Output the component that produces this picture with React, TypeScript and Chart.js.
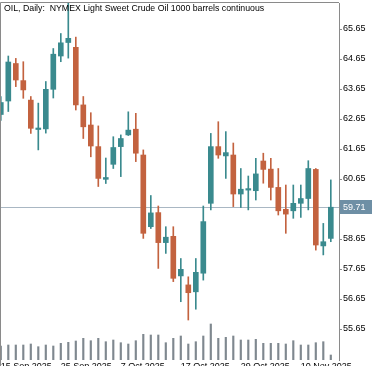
import React, { useEffect, useRef } from "react";
import { Chart, registerables } from "chart.js";
Chart.register(...registerables);

const dates = [
  "2025-09-15", "2025-09-16", "2025-09-17", "2025-09-18", "2025-09-19",
  "2025-09-22", "2025-09-23", "2025-09-24", "2025-09-25", "2025-09-26",
  "2025-09-29", "2025-09-30", "2025-10-01", "2025-10-02", "2025-10-03",
  "2025-10-06", "2025-10-07", "2025-10-08", "2025-10-09", "2025-10-10",
  "2025-10-13", "2025-10-14", "2025-10-15", "2025-10-16", "2025-10-17",
  "2025-10-20", "2025-10-21", "2025-10-22", "2025-10-23", "2025-10-24",
  "2025-10-27", "2025-10-28", "2025-10-29", "2025-10-30", "2025-10-31",
  "2025-11-03", "2025-11-04", "2025-11-05", "2025-11-06", "2025-11-07",
  "2025-11-10", "2025-11-11", "2025-11-12", "2025-11-13", "2025-11-14",
];

const opens = [
  62.8, 63.25, 64.5, 63.93, 63.28, 62.3, 62.32, 63.64, 64.75, 65.2,
  65.04, 63.12, 62.45, 61.73, 60.64, 61.14, 61.73, 62.12, 62.31, 61.45,
  59.06, 59.53, 58.53, 58.74, 57.42, 57.12, 56.89, 57.51, 59.84, 61.73,
  61.42, 61.45, 60.15, 60.28, 60.26, 61.25, 60.98, 60.37, 59.64, 59.59,
  59.84, 60.0, 60.97, 58.42, 58.67,
];
const highs = [
  63.4, 64.75, 64.67, 64.56, 63.4, 63.18, 63.9, 65.0, 65.5, 66.7,
  65.38, 63.4, 62.86, 62.42, 61.35, 62.06, 62.12, 62.89, 62.84, 61.62,
  60.1, 59.75, 59.06, 59.06, 58.0, 57.39, 58.0, 59.75, 62.17, 62.56,
  62.23, 61.85, 61.0, 60.75, 61.34, 61.51, 61.34, 61.0, 60.45, 60.45,
  60.45, 61.26, 61.0, 59.17, 60.62,
];
const lows = [
  62.6, 62.9, 63.73, 63.34, 62.17, 61.62, 62.18, 63.35, 64.56, 64.68,
  62.95, 62.0, 61.39, 60.4, 60.5, 61.0, 60.73, 62.1, 61.23, 58.67,
  59.0, 57.67, 58.17, 57.23, 56.56, 55.95, 56.31, 57.28, 59.62, 61.34,
  60.67, 59.73, 59.7, 59.62, 59.95, 60.51, 59.95, 59.45, 58.84, 59.34,
  59.37, 59.62, 58.28, 58.12, 58.56,
];
const closes = [
  63.2, 64.55, 63.95, 63.62, 62.34, 62.33, 63.64, 64.81, 65.19, 65.34,
  63.12, 62.39, 61.75, 60.67, 60.7, 61.7, 62.0, 62.28, 61.51, 58.84,
  59.52, 58.53, 58.71, 57.34, 57.64, 56.86, 57.54, 59.23, 61.73, 61.45,
  61.53, 60.15, 60.31, 60.33, 60.82, 60.97, 60.37, 59.59, 59.48, 59.84,
  60.0, 61.0, 58.45, 58.56, 59.71,
];
const volumes = [
  14000, 15000, 15000, 15000, 16000, 13300, 15000, 14000, 16700, 17700,
  19000, 21700, 19300, 21700, 18300, 20000, 17300, 16000, 19300, 25700,
  25000, 25000, 17300, 21700, 24000, 16000, 18300, 24000, 36000, 21700,
  22700, 24000, 20000, 20000, 20700, 16700, 16700, 16700, 16000, 19300,
  15000, 15000, 17300, 18300, 5000,
];

const xTickIndex = [0, 8, 16, 24, 32, 40];
const xTickLabels = ["15 Sep 2025", "25 Sep 2025", "7 Oct 2025", "17 Oct 2025", "29 Oct 2025", "10 Nov 2025"];
const priceTicks = [55.65, 56.65, 57.65, 58.65, 59.65, 60.65, 61.65, 62.65, 63.65, 64.65, 65.65];
const lastPrice = 59.71;
const titleText = "OIL, Daily:  NYMEX Light Sweet Crude Oil 1000 barrels continuous";

const BULL = "#3a8a8e";
const BEAR = "#c3623f";
const FONT = "'Liberation Sans', Arial, sans-serif";

export default function App() {
  const ref = useRef<HTMLCanvasElement | null>(null);

  useEffect(() => {
    document.body.style.margin = "0";
    const canvas = ref.current;
    if (!canvas) return;

    const colors = closes.map((c, i) => (c >= opens[i] ? BULL : BEAR));
    const idx = dates.map((_, i) => i);
    const priceTicksFiltered = priceTicks.filter((t) => Math.abs(t - lastPrice) > 0.2);

    const overlay = {
      id: "overlay",
      beforeDatasetsDraw(chart: any) {
        const { ctx, chartArea, scales } = chart;
        const y = Math.round(scales.y.getPixelForValue(lastPrice)) + 0.5;
        ctx.save();
        ctx.strokeStyle = "#a9b7c3";
        ctx.lineWidth = 1;
        ctx.beginPath();
        ctx.moveTo(chartArea.left, y);
        ctx.lineTo(chartArea.right, y);
        ctx.stroke();
        ctx.restore();
      },
      afterDraw(chart: any) {
        const { ctx, chartArea, scales } = chart;
        ctx.save();
        ctx.strokeStyle = "#8a8a8a";
        ctx.lineWidth = 1;
        ctx.beginPath();
        ctx.moveTo(0.5, 366);
        ctx.lineTo(0.5, chartArea.top - 0.5);
        ctx.lineTo(chartArea.right, chartArea.top - 0.5);
        ctx.stroke();
        ctx.fillStyle = "#000";
        ctx.font = `8.75px ${FONT}`;
        ctx.textBaseline = "alphabetic";
        ctx.textAlign = "left";
        ctx.fillText(titleText, 4, 11);
        const y = Math.round(scales.y.getPixelForValue(lastPrice));
        ctx.fillStyle = "#6e8fa5";
        ctx.fillRect(chartArea.right + 1, y - 7, 32, 14);
        ctx.fillStyle = "#fff";
        ctx.font = `9px ${FONT}`;
        ctx.textBaseline = "middle";
        ctx.fillText(lastPrice.toFixed(2), chartArea.right + 4, y + 0.5);
        ctx.restore();
      },
    };

    const chart = new Chart(canvas, {
      type: "bar",
      data: {
        datasets: [
          {
            label: "Body",
            data: idx.map((i) => ({ x: i, y: [opens[i], closes[i]] })) as any,
            backgroundColor: colors,
            borderWidth: 0,
            barThickness: 5,
            minBarLength: 1.5,
            grouped: false,
            yAxisID: "y",
          },
          {
            label: "Wick",
            data: idx.map((i) => ({ x: i, y: [lows[i], highs[i]] })) as any,
            backgroundColor: colors,
            borderWidth: 0,
            barThickness: 1,
            grouped: false,
            yAxisID: "y",
          },
          {
            label: "Volume",
            data: idx.map((i) => ({ x: i, y: volumes[i] })) as any,
            backgroundColor: "#7f888f",
            borderWidth: 0,
            barThickness: 1.5,
            grouped: false,
            yAxisID: "yv",
          },
        ],
      },
      options: {
        animation: false,
        responsive: false,
        devicePixelRatio: 1,
        layout: { padding: { top: 3, left: 0, right: 0, bottom: 0 } },
        plugins: { legend: { display: false }, tooltip: { enabled: false } },
        scales: {
          x: {
            type: "linear",
            position: "bottom",
            min: -0.8 / 7.5,
            max: (339 - 0.8) / 7.5,
            offset: false,
            grid: { display: false, drawTicks: false, offset: false },
            border: { display: false },
            ticks: {
              align: "start",
              autoSkip: false,
              maxRotation: 0,
              padding: 1,
              color: "#000",
              font: { family: FONT, size: 9 },
              callback: (v: any) => {
                const k = xTickIndex.indexOf(Math.round(Number(v)));
                return k >= 0 ? xTickLabels[k] : "";
              },
            },
            afterBuildTicks: (s: any) => {
              s.ticks = xTickIndex.map((v) => ({ value: v }));
            },
            afterFit: (s: any) => {
              s.height = 6;
              s.paddingLeft = 0;
              s.paddingRight = 0;
            },
          } as any,
          y: {
            type: "linear",
            position: "right",
            min: 54.617,
            max: 66.517,
            grid: { drawOnChartArea: false, drawTicks: true, tickLength: 3, color: "#8a8a8a" },
            border: { display: true, color: "#8a8a8a" },
            ticks: {
              padding: 1,
              color: "#000",
              font: { family: FONT, size: 9 },
              callback: (v: any) => Number(v).toFixed(2),
            },
            afterBuildTicks: (s: any) => {
              s.ticks = priceTicksFiltered.map((v) => ({ value: v }));
            },
            afterFit: (s: any) => {
              s.width = 36;
              s.paddingTop = 0;
              s.paddingBottom = 0;
            },
          } as any,
          yv: {
            type: "linear",
            display: false,
            min: 0,
            max: 357000,
          },
        },
      },
      plugins: [overlay],
    });

    return () => chart.destroy();
  }, []);

  return (
    <div style={{ width: 375, height: 366 }}>
      <canvas ref={ref} width={375} height={366} style={{ display: "block", width: 375, height: 366 }} />
    </div>
  );
}
